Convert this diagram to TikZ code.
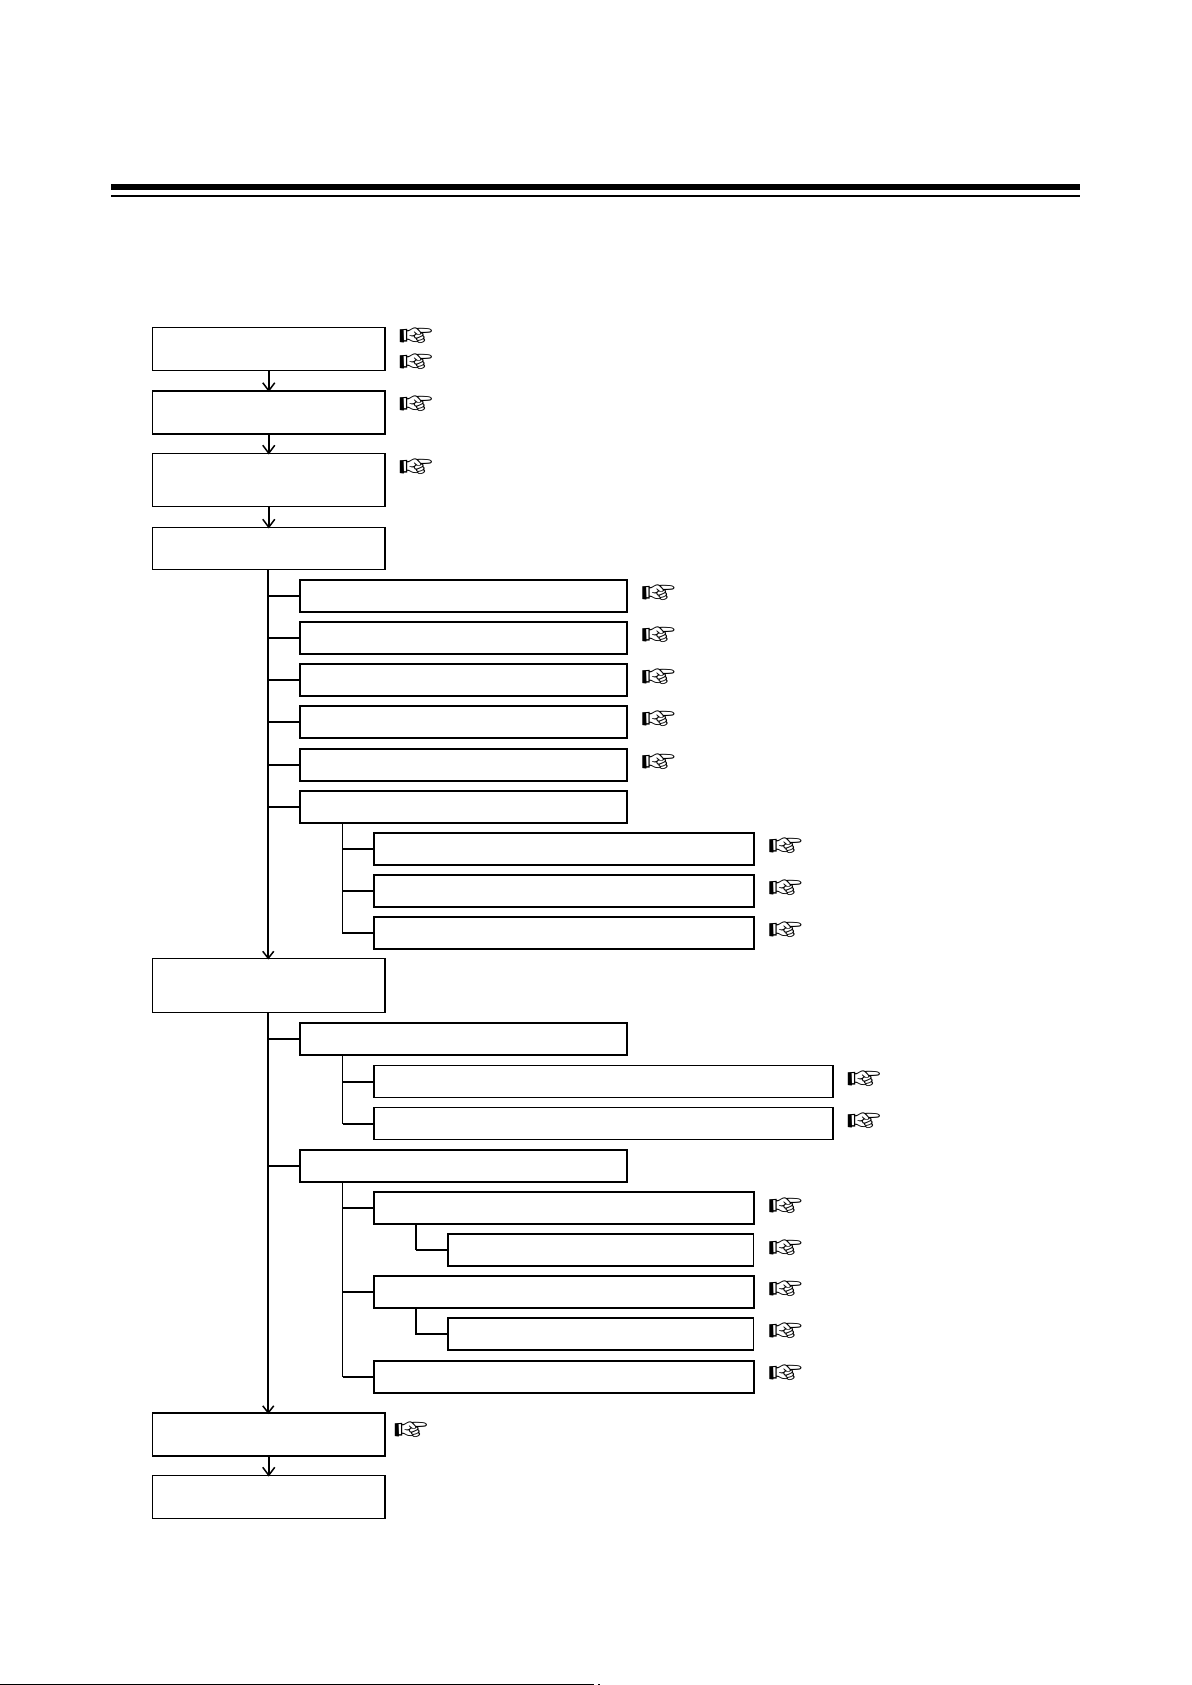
\documentclass[tikz,border=0pt]{standalone}
\usepackage{pifont}
\usetikzlibrary{arrows.meta}

\tikzset{
  box/.style={draw,line width=1.5pt,inner sep=0pt,outer sep=0pt,minimum height=32pt},
  bigbox/.style={box,minimum width=232.5pt,minimum height=43pt},
  midbox/.style={box,minimum width=327pt},
  lowbox/.style={box,minimum width=380pt},
  widebox/.style={box,minimum width=459pt},
  tinybox/.style={box,minimum width=305.5pt},
  hand/.style={inner sep=0pt,yshift=-3.5pt,font=\fontsize{37}{37}\selectfont},
  tie/.style={line width=2pt},
  thintie/.style={line width=1.2pt},
  flow/.style={line width=1.5pt,-{Straight Barb[length=8pt,width=12pt]},shorten >=-1pt},
  trunk/.style={flow,line width=2.2pt,-{Straight Barb[length=7pt,width=11pt,line width=1.5pt]}}
}

\begin{document}
\begin{tikzpicture}[x=1pt,y=-1pt]
  \useasboundingbox (0,0) rectangle (1191,1685);

  % page rules
  \draw[line width=6pt] (111,187) -- (1080,187);
  \draw[line width=2.5pt] (111,196) -- (1080,196);
  \draw[line width=1pt] (0,1684.5) -- (594,1684.5);
  \fill (598,1684) rectangle (599.5,1685);

  % main column
  \node[bigbox] (start)   at (268.75,349)    {};
  \node[bigbox] (second)  at (268.75,412.5)  {};
  \node[bigbox,minimum height=53pt] (third) at (268.75,480) {};
  \node[bigbox,minimum height=42pt] (fourth) at (268.75,548.5) {};
  \node[bigbox,minimum height=54pt] (fifth) at (268.75,985.5) {};
  \node[bigbox] (sixth)   at (268.75,1434.5) {};
  \node[bigbox] (last)    at (268.75,1497)   {};

  % under fourth
  \node[midbox] (A1) at (463.5,596) {};
  \node[midbox] (A2) at (463.5,638) {};
  \node[midbox] (A3) at (463.5,680) {};
  \node[midbox] (A4) at (463.5,722) {};
  \node[midbox] (A5) at (463.5,765) {};
  \node[midbox] (A6) at (463.5,807) {};
  \node[lowbox] (A61) at (564,849) {};
  \node[lowbox] (A62) at (564,891) {};
  \node[lowbox] (A63) at (564,933) {};

  % under fifth
  \node[midbox] (B1) at (463.5,1039) {};
  \node[widebox] (B11) at (603.5,1081.5) {};
  \node[widebox] (B12) at (603.5,1123.5) {};
  \node[midbox] (B2) at (463.5,1166) {};
  \node[lowbox] (B21) at (564,1208) {};
  \node[tinybox] (B211) at (600.5,1250) {};
  \node[lowbox] (B22) at (564,1292) {};
  \node[tinybox] (B221) at (600.5,1334) {};
  \node[lowbox] (B23) at (564,1377) {};

  % pointing hands
  \node[hand] (h1) at (416,335) {\ding{43}};
  \node[hand] (h2) at (416,361) {\ding{43}};
  \node[hand] (h3) at (416,403) {\ding{43}};
  \node[hand] (h4) at (416,466) {\ding{43}};
  \node[hand] (hA1) at (658.5,592) {\ding{43}};
  \node[hand] (hA2) at (658.5,634) {\ding{43}};
  \node[hand] (hA3) at (658.5,676) {\ding{43}};
  \node[hand] (hA4) at (658.5,718) {\ding{43}};
  \node[hand] (hA5) at (658.5,761) {\ding{43}};
  \node[hand] (hA61) at (785.5,845) {\ding{43}};
  \node[hand] (hA62) at (785.5,887) {\ding{43}};
  \node[hand] (hA63) at (785.5,929) {\ding{43}};
  \node[hand] (hB11) at (864,1078) {\ding{43}};
  \node[hand] (hB12) at (864,1120) {\ding{43}};
  \node[hand] (hB21) at (785.5,1205) {\ding{43}};
  \node[hand] (hB211) at (785.5,1247) {\ding{43}};
  \node[hand] (hB22) at (785.5,1288) {\ding{43}};
  \node[hand] (hB221) at (785.5,1330) {\ding{43}};
  \node[hand] (hB23) at (785.5,1372) {\ding{43}};
  \node[hand] (hsixth) at (411,1429) {\ding{43}};

  % arrows
  \draw[flow] (start) -- (second);
  \draw[flow] (second) -- (third);
  \draw[flow] (third) -- (fourth);
  \draw[trunk] ([xshift=-.5pt]fourth.south) -- ([xshift=-.5pt]fifth.north);
  \draw[trunk] ([xshift=-.5pt]fifth.south) -- ([xshift=-.5pt]sixth.north);
  \draw[flow] (sixth) -- (last);

  % branches off the main line
  \coordinate (mainA) at ([xshift=-.5pt]fourth.south);
  \coordinate (mainB) at ([xshift=-.5pt]fifth.south);
  \draw[tie] (A1.west) -- (A1.west -| mainA);
  \draw[tie] (A2.west) -- (A2.west -| mainA);
  \draw[tie] (A3.west) -- (A3.west -| mainA);
  \draw[tie] (A4.west) -- (A4.west -| mainA);
  \draw[thintie] (A5.west) -- (A5.west -| mainA);
  \draw[thintie] (A6.west) -- (A6.west -| mainA);
  \draw[tie] (B1.west) -- (B1.west -| mainB);
  \draw[thintie] (B2.west) -- (B2.west -| mainB);

  % second level
  \coordinate (a6) at ([xshift=42.5pt]A6.south west);
  \coordinate (b1) at ([xshift=42.5pt]B1.south west);
  \coordinate (b2) at ([xshift=42.5pt]B2.south west);
  \draw[tie] (A61.west) -- (A61.west -| a6);
  \draw[tie] (A62.west) -- (A62.west -| a6);
  \draw[thintie] (a6) |- (A63.west);
  \draw[thintie] (b1) -- (b1 |- B12.west);
  \draw[tie] (B11.west) -- (B11.west -| b1);
  \draw[tie] (B12.west) -- (B12.west -| b1);
  \draw[thintie] (b2) -- (b2 |- B23.west);
  \draw[thintie] (B21.west) -- (B21.west -| b2);
  \draw[thintie] (B22.west) -- (B22.west -| b2);
  \draw[tie] (B23.west) -- (B23.west -| b2);

  % third level
  \coordinate (b21) at ([xshift=42pt]B21.south west);
  \coordinate (b22) at ([xshift=42pt]B22.south west);
  \draw[tie] (b21) -- (b21 |- B211.west);
  \draw[thintie] (B211.west) -- (B211.west -| b21);
  \draw[tie] (b22) |- (B221.west);
\end{tikzpicture}
\end{document}
